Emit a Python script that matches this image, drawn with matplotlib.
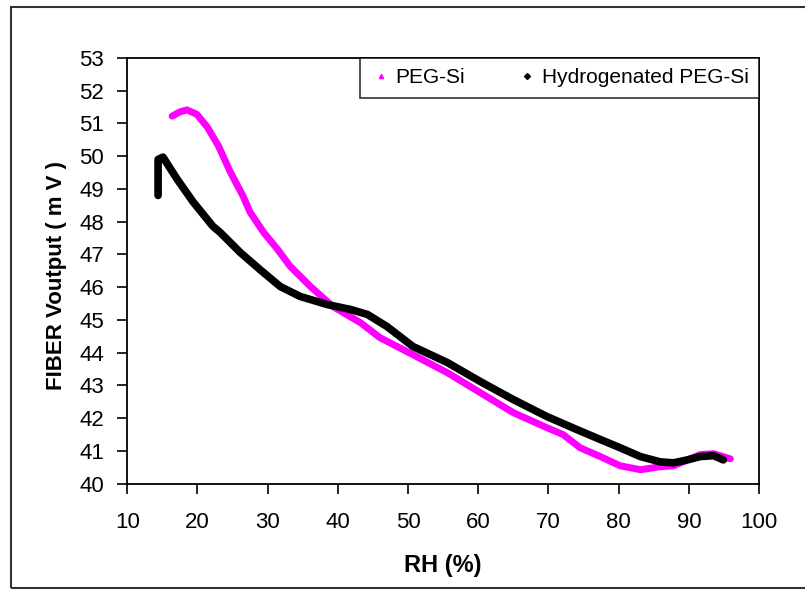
import matplotlib
matplotlib.use("Agg")
import matplotlib.pyplot as plt
from matplotlib.patches import Rectangle
from matplotlib.lines import Line2D

plt.rcParams['font.family'] = ['Liberation Sans', 'DejaVu Sans']

# PEG-Si
rh_peg = [16.4, 17.5, 18.5, 19.9, 21.4, 23.0, 24.7, 26.5, 27.5, 29.4, 31.4, 33.2,
          36.1, 39.3, 43.2, 46.0, 50.7, 55.6, 60.3, 65.0, 69.8, 72.1, 74.5, 77.4,
          80.2, 83.1, 85.9, 87.8, 89.8, 91.6, 93.5, 95.9]
v_peg = [51.22, 51.35, 51.41, 51.28, 50.89, 50.31, 49.51, 48.78, 48.29, 47.68, 47.16, 46.64,
         46.02, 45.41, 44.92, 44.46, 43.94, 43.39, 42.78, 42.17, 41.71, 41.50, 41.10, 40.83,
         40.55, 40.43, 40.52, 40.55, 40.73, 40.89, 40.92, 40.76]

# Hydrogenated PEG-Si
rh_hyd = [14.4, 14.4, 15.1, 17.1, 19.4, 22.2, 23.2, 26.1, 28.9, 31.8, 34.6, 38.5,
          41.8, 44.2, 47.0, 50.7, 55.6, 60.3, 65.0, 69.8, 74.1, 77.4, 80.2, 83.1,
          85.9, 87.8, 89.8, 91.6, 93.5, 94.9]
v_hyd = [48.80, 49.90, 49.97, 49.30, 48.60, 47.86, 47.68, 47.06, 46.54, 46.02, 45.72, 45.47,
         45.32, 45.17, 44.80, 44.19, 43.70, 43.12, 42.57, 42.05, 41.65, 41.35, 41.10, 40.83,
         40.67, 40.64, 40.73, 40.83, 40.86, 40.73]

fig = plt.figure(figsize=(8.05, 5.9), dpi=100)
ax = fig.add_axes([0.158, 0.180, 0.785, 0.722])

ax.plot(rh_peg, v_peg, color='#ff00ff', lw=5, solid_capstyle='round', solid_joinstyle='round')
ax.plot(rh_hyd, v_hyd, color='black', lw=5.5, solid_capstyle='round', solid_joinstyle='round')

ax.set_xlim(10, 100)
ax.set_ylim(40, 53)
ax.set_xticks(range(10, 101, 10))
ax.set_yticks(range(40, 54))
ax.tick_params(direction='out', length=7.5, width=1.2, labelsize=16)
ax.tick_params(axis='y', pad=9)
ax.tick_params(axis='x', pad=13)
for s in ax.spines.values():
    s.set_linewidth(1.3)

ax.set_xlabel('RH (%)', fontsize=17, fontweight='bold')
ax.set_ylabel('FIBER Voutput ( m V )', fontsize=16, fontweight='bold')
ax.xaxis.set_label_coords(0.5, -0.165)
ax.yaxis.set_label_coords(-0.095, 0.49)

handles = [Line2D([], [], ls='none', marker='^', ms=3, color='#ff00ff'),
           Line2D([], [], ls='none', marker='D', ms=3, color='black')]
leg = ax.legend(handles, ['PEG-Si', 'Hydrogenated PEG-Si'], loc='upper right',
                bbox_to_anchor=(1.0, 1.0), ncol=2, fontsize=15, frameon=True,
                fancybox=False, edgecolor='black', borderaxespad=0,
                handlelength=1.0, handletextpad=0.2, columnspacing=2.5,
                borderpad=0.5)
leg.get_frame().set_linewidth(1.2)

# outer chart border
fig.patches.append(Rectangle((0.014, 0.004), 1.1, 0.984, transform=fig.transFigure,
                             fill=False, edgecolor='#333333', lw=1.5))

fig.savefig('out.png', dpi=100)
